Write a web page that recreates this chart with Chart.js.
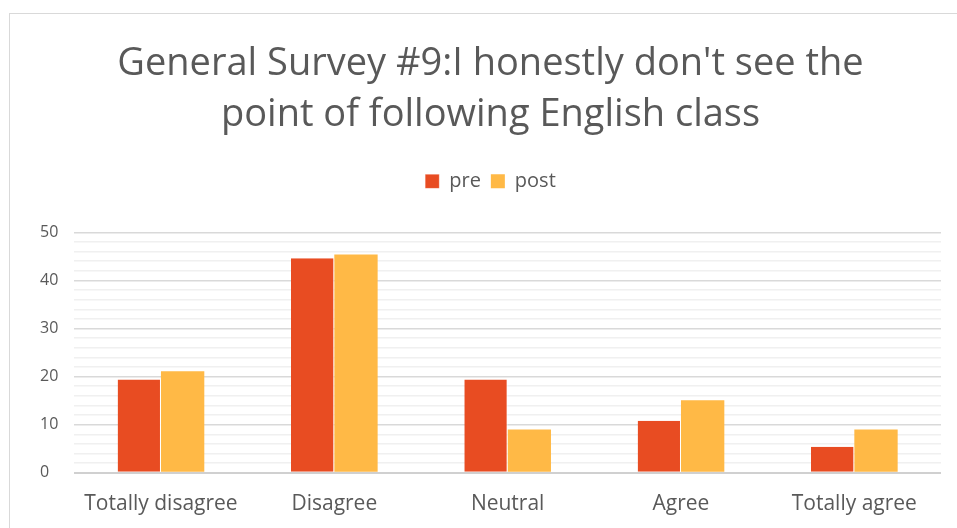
<!DOCTYPE html>
<html>
<head>
<meta charset="utf-8">
<script src="https://cdn.jsdelivr.net/npm/chart.js@4"></script>
<style>
  html, body { margin: 0; padding: 0; background: #fff; }
  #wrap { position: relative; width: 957px; height: 528px; overflow: hidden; }
  #frame { position: absolute; left: 9px; top: 13px; width: 1000px; height: 600px; border: 1px solid #d9d9d9; box-sizing: border-box; }
  canvas { position: absolute; left: 0; top: 0; }
</style>
</head>
<body>
<div id="wrap">
  <div id="frame"></div>
  <canvas id="myChart" width="957" height="528"></canvas>
</div>
<script>
// Datos
const categories = ['Totally disagree', 'Disagree', 'Neutral', 'Agree', 'Totally agree'];
const preValues = [19.4, 44.6, 19.4, 10.8, 5.4];
const postValues = [21.1, 45.4, 9.0, 15.1, 9.0];
const yTicks = [0, 10, 20, 30, 40, 50];

const ctx = document.getElementById('myChart');
Chart.defaults.font.family = 'Open Sans';
Chart.defaults.color = '#595959';

// espacio extra debajo de la leyenda
const legendMargin = {
  id: 'legendMargin',
  beforeInit(chart) {
    const fit = chart.legend.fit;
    chart.legend.fit = function () {
      fit.bind(chart.legend)();
      this.height += 31;
    };
  }
};

new Chart(ctx, {
  type: 'bar',
  data: {
    labels: categories,
    datasets: [{
      label: 'pre',
      data: preValues,
      backgroundColor: '#E84C22',
      borderColor: '#ffffff',
      borderWidth: { left: 0, right: 1, top: 0, bottom: 0 },
      categoryPercentage: 0.5,
      barPercentage: 1
    }, {
      label: 'post',
      data: postValues,
      backgroundColor: '#FFB946',
      borderColor: '#ffffff',
      borderWidth: 0,
      categoryPercentage: 0.5,
      barPercentage: 1
    }]
  },
  options: {
    responsive: false,
    animation: false,
    layout: { padding: { top: 14, left: 40, right: 16, bottom: 0 } },
    scales: {
      x: {
        grid: { display: false },
        border: { display: false },
        ticks: { color: '#595959', padding: 11, font: { size: 21 } }
      },
      y: {
        min: 0,
        max: 50,
        border: { display: false },
        afterBuildTicks: (axis) => {
          const t = [];
          for (let v = 0; v <= 50; v += 2) t.push({ value: v });
          axis.ticks = t;
        },
        grid: {
          color: (c) => c.tick.value === 0 ? '#d0d0d0' : (c.tick.value % 10 === 0 ? '#d9d9d9' : '#f0f0f0'),
          lineWidth: (c) => c.tick.value === 0 ? 2 : 1.5,
          drawTicks: false
        },
        ticks: {
          color: '#595959',
          padding: 8,
          autoSkip: false,
          crossAlign: 'far',
          font: { size: 16 },
          callback: (v) => yTicks.includes(v) ? String(v) : ''
        }
      }
    },
    plugins: {
      title: {
        display: true,
        text: ["General Survey #9:I honestly don't see the", 'point of following English class'],
        color: '#595959',
        font: { size: 38, weight: 'normal', lineHeight: 1.36 },
        padding: { top: 24, bottom: 20 }
      },
      legend: {
        labels: {
          color: '#595959',
          boxWidth: 14,
          boxHeight: 14,
          padding: 10,
          font: { size: 20 }
        }
      },
      tooltip: { enabled: false }
    }
  },
  plugins: [legendMargin]
});
</script>
</body>
</html>
